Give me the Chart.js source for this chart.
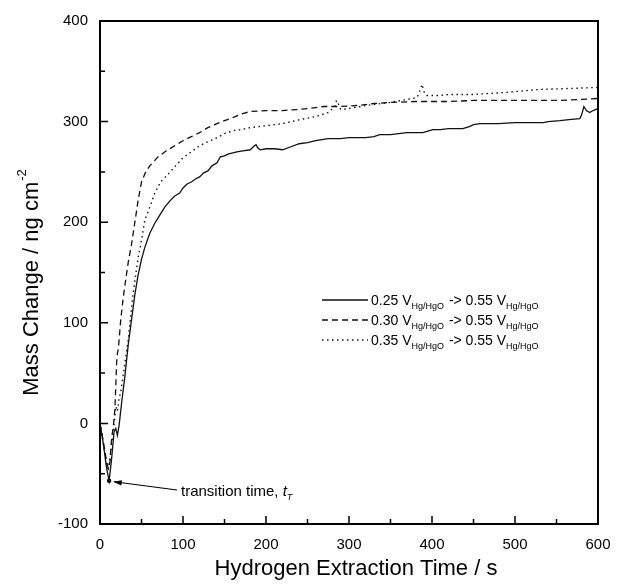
<!DOCTYPE html>
<html>
<head>
<meta charset="utf-8">
<script src="https://cdn.jsdelivr.net/npm/chart.js@4.4.1/dist/chart.umd.min.js"></script>
<style>
  html, body { margin: 0; padding: 0; background: #fff; }
  #wrap { width: 628px; height: 586px; }
</style>
</head>
<body>
<div id="wrap"><canvas id="myChart" width="628" height="586"></canvas></div>
<script>
// 0.25 V -> 0.55 V (solid)
const x025 = [0, 4, 8, 11, 14, 17, 19, 21, 23, 26, 30, 34, 38, 42, 46, 50, 54, 60, 66, 72, 78, 84, 90, 96, 100, 105, 110, 115, 120, 125, 130, 135, 141, 145, 150, 155, 160, 165, 172, 181, 186, 188, 190, 193, 200, 210, 220, 230, 240, 250, 260, 275, 290, 300, 320, 330, 337, 350, 370, 389, 401, 410, 420, 437, 445, 450, 458, 480, 500, 534, 540, 554, 565, 578, 580, 583, 586, 590, 594, 600];
const y025 = [0, -20, -45, -57, -35, -8, -5, -12, -2, 20, 47, 78, 103, 128, 148, 163, 175, 189, 199, 207, 215, 221, 226, 229, 234, 238, 240, 243, 245, 249, 251, 256, 259, 265, 266, 268, 269, 270, 271, 272, 276, 277, 274, 272, 273, 273, 272, 275, 278, 279, 281, 283, 283, 284, 284, 285, 287, 287, 289, 289, 292, 292, 293, 293, 295, 297, 298, 298, 299, 299, 300, 301, 302, 303, 306, 315, 311, 309, 311, 313];

// 0.30 V -> 0.55 V (dashed)
const x030 = [0, 4, 8, 10, 12, 14, 16, 18, 20, 21, 22, 25, 28, 31, 34, 38, 42, 46, 50, 55, 60, 70, 80, 90, 100, 110, 120, 130, 141, 150, 160, 172, 181, 200, 220, 237, 250, 270, 289, 310, 330, 349, 380, 422, 450, 500, 550, 580, 600];
const y030 = [0, -18, -38, -45, -38, -15, -3, 14, 60, 70, 73, 103, 125, 143, 160, 178, 200, 222, 240, 250, 256, 265, 271, 276, 281, 285, 289, 294, 298, 301, 304, 308, 310, 311, 311, 312, 313, 315, 315, 316, 318, 319, 320, 320, 321, 321, 321, 322, 323];

// 0.35 V -> 0.55 V (dotted)
const x035 = [0, 4, 8, 10, 12, 14, 16, 19, 21, 23, 25, 30, 34, 37, 40, 46, 50, 54, 60, 66, 73, 80, 90, 100, 110, 120, 130, 141, 150, 160, 170, 181, 201, 220, 241, 260, 275, 283, 285, 287, 290, 300, 320, 349, 370, 382, 385, 388, 391, 394, 410, 422, 450, 490, 530, 570, 600];
const y035 = [0, -20, -42, -45, -35, -20, -10, 17, 12, 25, 31, 60, 83, 107, 130, 165, 182, 202, 215, 229, 240, 246, 255, 264, 270, 276, 280, 284, 288, 291, 292, 294, 296, 298, 302, 305, 309, 315, 321, 318, 312, 313, 316, 319, 322, 324, 330, 337, 328, 326, 326, 327, 327, 329, 332, 333, 334];

const legendFrom = ['0.25 V', '0.30 V', '0.35 V'];
const legendTo = '0.55 V';
const legendSub = 'Hg/HgO';

const xTicks = [0, 100, 200, 300, 400, 500, 600];
const yTicks = [-100, 0, 100, 200, 300, 400];

// transition point (min of solid curve)
const tPoint = { x: 11, y: -57 };

const FONT = '"Liberation Sans", Arial, Helvetica, sans-serif';

function pts(xs, ys) {
  return xs.map((v, i) => ({ x: v, y: ys[i] }));
}

const data = {
  datasets: [
    { label: legendFrom[0], data: pts(x025, y025), borderColor: '#111', borderWidth: 1.3, borderDash: [] },
    { label: legendFrom[1], data: pts(x030, y030), borderColor: '#111', borderWidth: 1.3, borderDash: [6, 4] },
    { label: legendFrom[2], data: pts(x035, y035), borderColor: '#111', borderWidth: 1.4, borderDash: [1.5, 3.5] }
  ]
};

// frame, inward ticks, axis titles, legend and annotation
const extras = {
  id: 'extras',
  afterDraw(chart) {
    const ctx = chart.ctx;
    const a = chart.chartArea;
    const xs = chart.scales.x, ys = chart.scales.y;
    ctx.save();

    // frame
    ctx.strokeStyle = '#000';
    ctx.lineWidth = 2;
    ctx.strokeRect(a.left, a.top, a.right - a.left, a.bottom - a.top);

    // inward ticks on bottom and left
    ctx.lineWidth = 1.5;
    ctx.beginPath();
    for (let v = 0; v <= 600; v += 50) {
      const px = xs.getPixelForValue(v);
      const len = v % 100 === 0 ? 8 : 5;
      ctx.moveTo(px, a.bottom);
      ctx.lineTo(px, a.bottom - len);
    }
    for (let v = -100; v <= 400; v += 50) {
      const py = ys.getPixelForValue(v);
      const len = v % 100 === 0 ? 8 : 5;
      ctx.moveTo(a.left, py);
      ctx.lineTo(a.left + len, py);
    }
    ctx.stroke();

    ctx.fillStyle = '#000';
    // x title
    ctx.font = '22px ' + FONT;
    ctx.textAlign = 'center';
    ctx.textBaseline = 'middle';
    ctx.fillText('Hydrogen Extraction Time / s', 356, 569);

    // y title
    ctx.save();
    ctx.translate(32, 283);
    ctx.rotate(-Math.PI / 2);
    ctx.font = '22px ' + FONT;
    const t1 = 'Mass Change / ng cm';
    const w1 = ctx.measureText(t1).width;
    ctx.font = '13px ' + FONT;
    const w2 = ctx.measureText('-2').width;
    const tot = w1 + w2;
    ctx.textAlign = 'left';
    ctx.font = '22px ' + FONT;
    ctx.fillText(t1, -tot / 2, 0);
    ctx.font = '13px ' + FONT;
    ctx.fillText('-2', -tot / 2 + w1 + 1, -10);
    ctx.restore();

    // legend
    const lx0 = 322, lx1 = 368, rows = [300, 320, 340];
    chart.data.datasets.forEach((ds, i) => {
      const y = rows[i];
      ctx.strokeStyle = '#111';
      ctx.lineWidth = ds.borderWidth;
      ctx.setLineDash(ds.borderDash);
      ctx.beginPath();
      ctx.moveTo(lx0, y);
      ctx.lineTo(lx1, y);
      ctx.stroke();
      ctx.setLineDash([]);
      ctx.textAlign = 'left';
      ctx.textBaseline = 'alphabetic';
      let x = lx1 + 3;
      const base = y + 5;
      const parts = [[ds.label, false], [legendSub, true], [' -> ' + legendTo, false], [legendSub, true]];
      parts.forEach(p => {
        ctx.font = (p[1] ? '9px ' : '14px ') + FONT;
        ctx.fillText(p[0], x, p[1] ? base + 4 : base);
        x += ctx.measureText(p[0]).width + (p[1] ? 1 : 0);
      });
    });

    // annotation
    const px = xs.getPixelForValue(tPoint.x), py = ys.getPixelForValue(tPoint.y);
    ctx.beginPath();
    ctx.arc(px, py, 2.2, 0, Math.PI * 2);
    ctx.fill();
    const tx = 177, ty = 490;
    ctx.strokeStyle = '#000';
    ctx.lineWidth = 1.2;
    ctx.beginPath();
    ctx.moveTo(tx, ty);
    ctx.lineTo(px + 5, py + 1);
    ctx.stroke();
    const ang = Math.atan2(ty - (py + 1), tx - (px + 5));
    ctx.beginPath();
    ctx.moveTo(px + 4, py + 1);
    ctx.lineTo(px + 4 + 9 * Math.cos(ang - 0.3), py + 1 + 9 * Math.sin(ang - 0.3));
    ctx.lineTo(px + 4 + 9 * Math.cos(ang + 0.3), py + 1 + 9 * Math.sin(ang + 0.3));
    ctx.closePath();
    ctx.fill();
    ctx.font = '15px ' + FONT;
    ctx.textAlign = 'left';
    ctx.textBaseline = 'alphabetic';
    const lab = 'transition time, ';
    ctx.fillText(lab, 181, 496);
    let lw = ctx.measureText(lab).width;
    ctx.font = 'italic 15px ' + FONT;
    ctx.fillText('t', 181 + lw, 496);
    lw += ctx.measureText('t').width;
    ctx.font = 'italic 9px ' + FONT;
    ctx.fillText('T', 181 + lw, 500);

    ctx.restore();
  }
};

const config = {
  type: 'scatter',
  data: data,
  options: {
    responsive: false,
    animation: false,
    showLine: true,
    elements: {
      point: { radius: 0, hoverRadius: 0 },
      line: { tension: 0, fill: false }
    },
    layout: { padding: { top: 20, right: 30, left: 0, bottom: 0 } },
    scales: {
      x: {
        type: 'linear',
        min: 0, max: 600,
        afterFit: s => { s.height = 62; },
        afterBuildTicks: s => { s.ticks = xTicks.map(v => ({ value: v })); },
        grid: { display: false, drawTicks: false },
        border: { display: false },
        ticks: { color: '#000', padding: 12, font: { size: 15, family: FONT }, maxRotation: 0 }
      },
      y: {
        type: 'linear',
        min: -100, max: 400,
        afterFit: s => { s.width = 100; },
        afterBuildTicks: s => { s.ticks = yTicks.map(v => ({ value: v })); },
        grid: { display: false, drawTicks: false },
        border: { display: false },
        ticks: { color: '#000', padding: 12, font: { size: 15, family: FONT } }
      }
    },
    plugins: {
      legend: { display: false },
      tooltip: { enabled: false }
    }
  },
  plugins: [extras]
};

Chart.defaults.font.family = FONT;

const myChart = new Chart(document.getElementById('myChart'), config);
</script>
</body>
</html>
